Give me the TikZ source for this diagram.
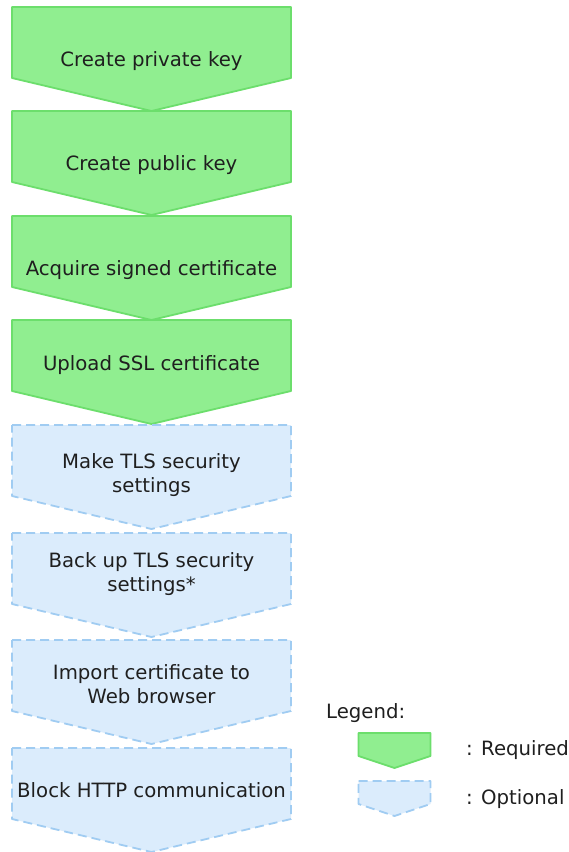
\documentclass[tikz,border=0pt]{standalone}
\usepackage{fontspec}
\setmainfont{DejaVu Sans}
\definecolor{reqfill}{RGB}{144,238,144}
\definecolor{reqline}{RGB}{108,222,108}
\definecolor{optfill}{RGB}{219,236,252}
\definecolor{optline}{RGB}{160,204,242}
\tikzset{
  chevron/.pic={\path[pic actions] (-139.5,0) -- (139.5,0) -- (139.5,71) -- (0,104) -- (-139.5,71) -- cycle;},
  legchevron/.pic={\path[pic actions] (-36,0) -- (36,0) -- (36,23) -- (0,35) -- (-36,23) -- cycle;},
  req/.style={fill=reqfill, draw=reqline, line width=1.8pt, line join=round},
  opt/.style={fill=optfill, draw=optline, line width=1.8pt, dash pattern=on 9pt off 5pt, line join=round},
  lbl/.style={font=\fontsize{19.7}{23.5}\selectfont, text=black!88, align=center, inner sep=0pt},
}
\begin{document}
\begin{tikzpicture}[x=1pt,y=-1pt]
\fill[white] (0,0) rectangle (569,852);
\useasboundingbox (0,0) rectangle (569,852);
% required steps
\pic[req] at (151.5,7) {chevron};
\pic[req] at (151.5,111) {chevron};
\pic[req] at (151.5,216) {chevron};
\pic[req] at (151.5,320) {chevron};
% optional steps
\pic[opt] at (151.5,425) {chevron};
\pic[opt] at (151.5,533) {chevron};
\pic[opt] at (151.5,640) {chevron};
\pic[opt] at (151.5,748) {chevron};
% labels
\node[lbl] (s1) at (151.5,61) {Create private key};
\node[lbl] (s2) at (151.5,165) {Create public key};
\node[lbl] (s3) at (151.5,270) {Acquire signed certificate};
\node[lbl] (s4) at (151.5,365) {Upload SSL certificate};
\node[lbl] (s5) at (151.5,475) {Make TLS security\\settings};
\node[lbl] (s6) at (151.5,574) {Back up TLS security\\settings*};
\node[lbl] (s7) at (151.5,684) {Import certificate to\\Web browser};
\node[lbl] (s8) at (151.5,790) {Block HTTP communication};
% legend
\node[lbl, anchor=west] (leg) at (326,713) {Legend:};
\pic[req] at (394.5,733) {legchevron};
\pic[opt] at (394.5,781) {legchevron};
\node[lbl, anchor=west] (lreq) at (466,750) {: Required};
\node[lbl, anchor=west] (lopt) at (466,799) {: Optional};
\end{tikzpicture}
\end{document}
